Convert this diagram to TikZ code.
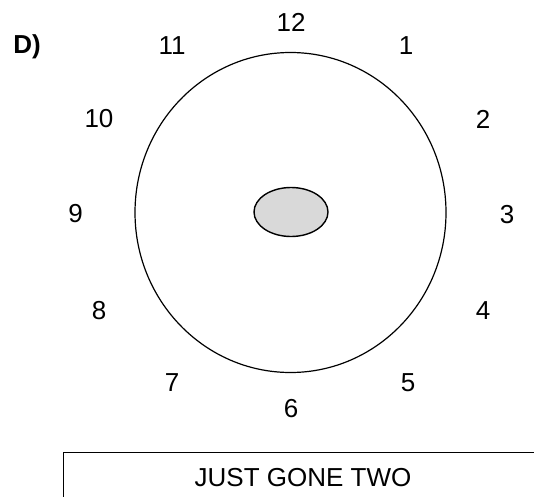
\documentclass[tikz,border=0pt]{standalone}
\usepackage{fontspec}
\setmainfont{Liberation Sans}
\usetikzlibrary{shapes.geometric}
\begin{document}
\begin{tikzpicture}[x=1pt,y=-1pt,
  num/.style={font=\fontsize{26}{30}\selectfont, inner sep=0pt, anchor=center},
  line width=1.2pt]
\useasboundingbox (0,0) rectangle (534,497);
\node[draw, ellipse, minimum width=311pt, minimum height=320pt, inner sep=0pt] (face) at (290.5,212.5) {};
\node[draw, ellipse, fill={rgb,255:red,217;green,217;blue,217}, line width=1.4pt, minimum width=74pt, minimum height=49pt, inner sep=0pt] (hub) at (291,212) {};
\node[num] (n12) at (291,22) {12};
\node[num] (n1) at (406,46) {1};
\node[num] (n2) at (483,119) {2};
\node[num] (n3) at (507,215) {3};
\node[num] (n4) at (483,311) {4};
\node[num] (n5) at (408,383) {5};
\node[num] (n6) at (291,409) {6};
\node[num] (n7) at (172,383) {7};
\node[num] (n8) at (99,311) {8};
\node[num] (n9) at (75.5,214) {9};
\node[num] (n10) at (99,119) {10};
\node[num] (n11) at (172,46) {11};
\node[num, font=\fontsize{26}{30}\selectfont\bfseries] (lab) at (27,47) {D)};
\coordinate (br) at (534,452.5);
\coordinate (bl) at (63.5,452.5);
\coordinate (bb) at (63.5,497);
\draw (br) -- (bl) -- (bb);
\node[num] (ans) at (303,478) {JUST GONE TWO};
\end{tikzpicture}
\end{document}
